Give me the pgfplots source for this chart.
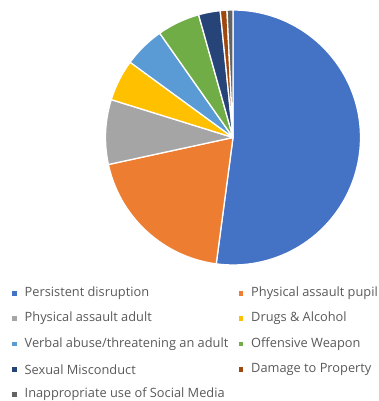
\documentclass[border=0pt]{standalone}
\usepackage{pgfplots}
\usepackage{pgfplotstable}
\pgfplotsset{compat=1.18}
\usepackage{fontspec}
\setmainfont{Open Sans}
\definecolor{pc0}{HTML}{4472C4}
\definecolor{pc1}{HTML}{ED7D31}
\definecolor{pc2}{HTML}{A5A5A5}
\definecolor{pc3}{HTML}{FFC000}
\definecolor{pc4}{HTML}{5B9BD5}
\definecolor{pc5}{HTML}{70AD47}
\definecolor{pc6}{HTML}{264478}
\definecolor{pc7}{HTML}{9E480E}
\definecolor{pc8}{HTML}{636363}
\definecolor{legtext}{HTML}{595959}
\pgfplotstableread{
idx value
0 52.1
1 19.5
2 8.2
3 5.25
4 5.2
5 5.4
6 2.75
7 0.85
8 0.75
}\piedata
\begin{document}
\begin{tikzpicture}
\begin{axis}[x=1bp,y=1bp,xmin=0,xmax=379,ymin=0,ymax=401,hide axis,clip=false,scale only axis]
\path (axis cs:0,0) rectangle (axis cs:379,401);
\coordinate (C) at (axis cs:233,263.5);
\pgfplotsextra{
  \gdef\cum{0}
  \foreach \i in {0,...,8}{
    \pgfplotstablegetelem{\i}{value}\of\piedata
    \let\v\pgfplotsretval
    \pgfmathsetmacro\a{90-\cum*3.6}
    \pgfmathsetmacro\b{90-(\cum+\v)*3.6}
    \fill[fill=pc\i, draw=white, line width=1.3bp, line join=round] (C) -- ++(\a:127.5bp) arc[start angle=\a, end angle=\b, radius=127.5bp] -- cycle;
    \pgfmathsetmacro\newcum{\cum+\v}
    \xdef\cum{\newcum}
  }
}
% legend
\def\legfont{\fontsize{12.8bp}{14bp}\selectfont}
\foreach \col/\x/\y/\t in {pc0/14.5/293.3/{Persistent disruption},
  pc1/241/293.3/{Physical assault pupil},
  pc2/14.5/318.5/{Physical assault adult},
  pc3/241/318.5/{Drugs \& Alcohol},
  pc4/14.5/344/{Verbal abuse/threatening an adult},
  pc5/241/344/{Offensive Weapon},
  pc6/14.5/369.3/{Sexual Misconduct},
  pc7/241/369.3/{Damage to Property},
  pc8/14.5/394.5/{Inappropriate use of Social Media}}{
  \edef\temp{\noexpand\fill[\col] (axis cs:\x-2.3,{401-\y-2.3}) rectangle (axis cs:\x+2.3,{401-\y+2.3});
  \noexpand\node[anchor=west,inner sep=0pt,text=legtext,font=\noexpand\legfont] at (axis cs:\x+10,{401-\y}) {\t};}
  \temp
}
\end{axis}
\end{tikzpicture}
\end{document}
